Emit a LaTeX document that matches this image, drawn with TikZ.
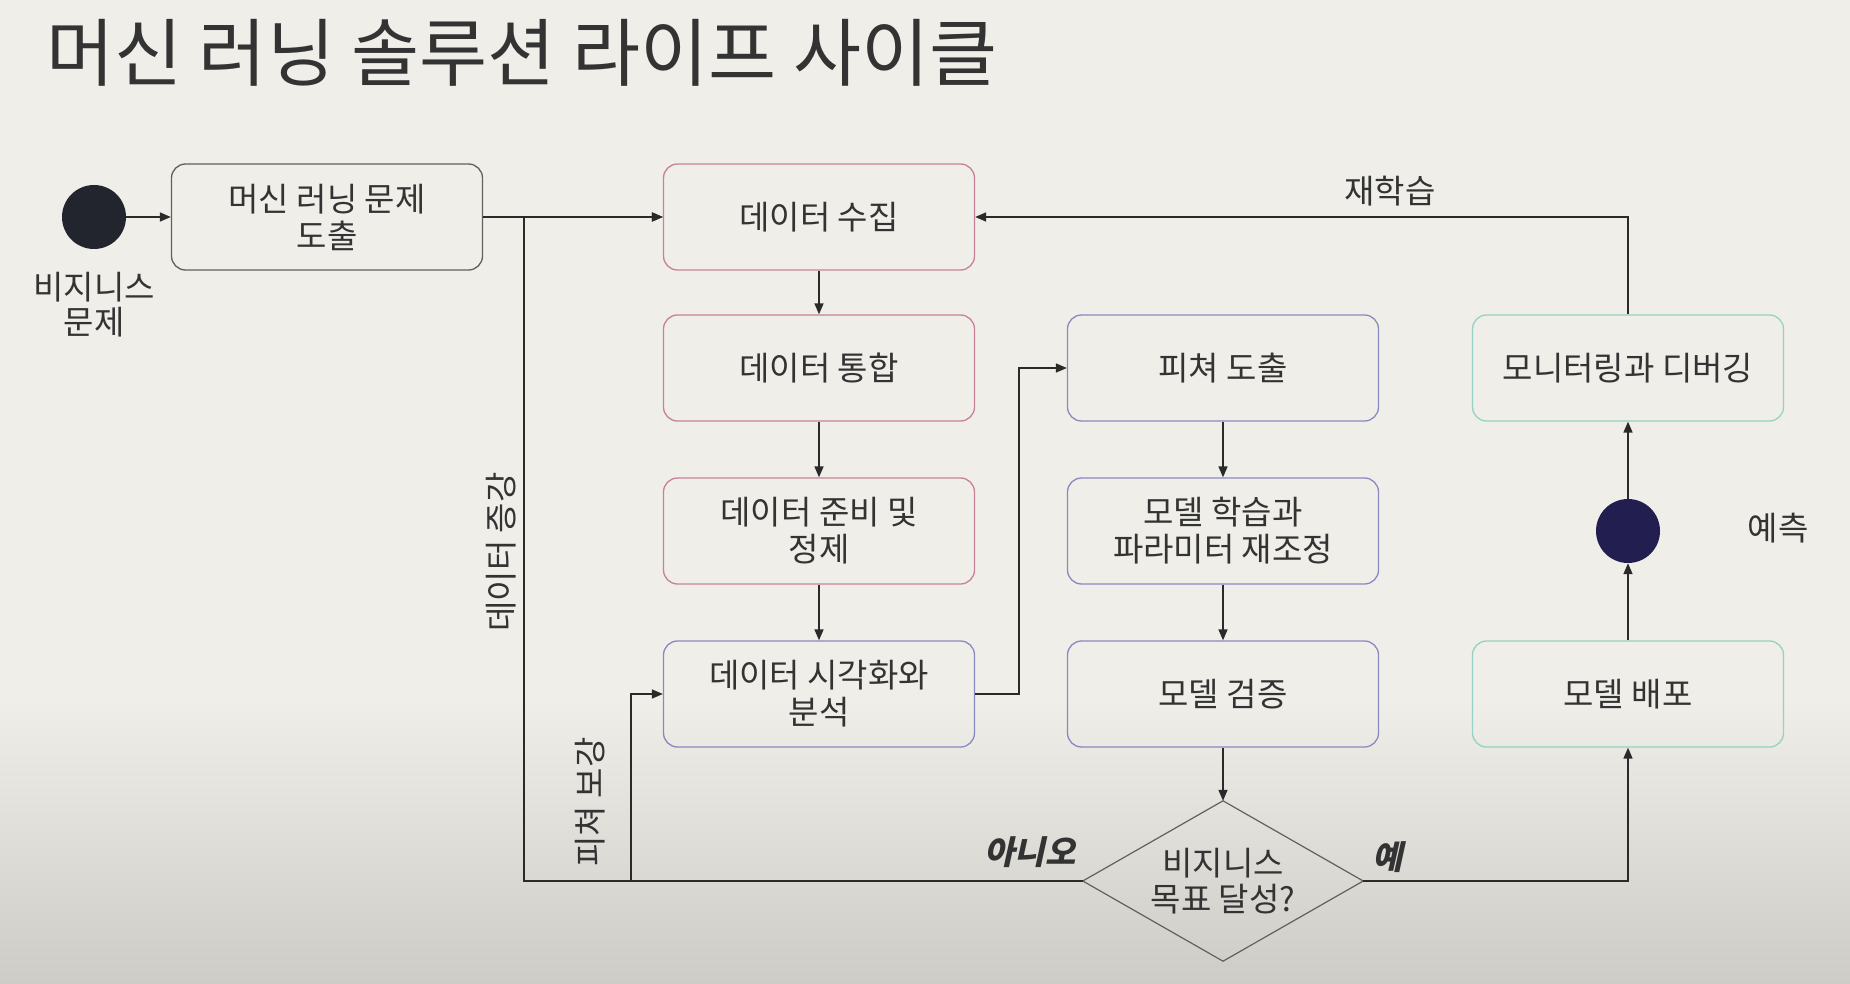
\documentclass[tikz,border=0pt]{standalone}
\usepackage{fontspec}
\setmainfont{Noto Sans CJK KR}
\newfontfamily\kr{Noto Sans CJK KR}
\newfontfamily\krsl[FakeSlant=0.22]{Noto Sans CJK KR}
\usetikzlibrary{shapes.geometric,arrows.meta}
\definecolor{bg}{HTML}{EFEEE9}
\definecolor{bgdark}{HTML}{CDCCC7}
\definecolor{txt}{HTML}{333333}
\definecolor{lin}{HTML}{2A2A2A}
\definecolor{grayb}{HTML}{606060}
\definecolor{pinkb}{HTML}{C8809A}
\definecolor{purpb}{HTML}{8A88C0}
\definecolor{tealb}{HTML}{96D2C2}
\definecolor{dotA}{HTML}{22252E}
\definecolor{dotB}{HTML}{221F50}
\tikzset{
  box/.style={draw, rounded corners=14pt, minimum width=311pt, minimum height=106pt,
    align=center, line width=1.3pt, text=txt, inner sep=4pt,
    font=\kr\fontsize{33}{37}\selectfont},
  lbl/.style={text=txt, align=center, inner sep=0pt, font=\kr\fontsize{33}{36}\selectfont},
  arr/.style={draw=lin, line width=1.6pt, -{Triangle[length=11pt,width=9pt]}},
  dot/.style={circle, minimum size=64pt, inner sep=0pt},
}
\begin{document}
\begin{tikzpicture}[x=1pt,y=-1pt]
\useasboundingbox (0,0) rectangle (1850,984);
\fill[bg] (0,0) rectangle (1850,984);
\shade[top color=bg, bottom color=bgdark] (0,700) rectangle (1850,984);

\node[anchor=west, text=txt, inner sep=0pt, font=\kr\fontsize{74}{78}\selectfont] (title) at (46,53) {머신 러닝 솔루션 라이프 사이클};

\node[dot, fill=dotA] (start) at (94,217) {};
\node[lbl] (startlbl) at (94,305) {비지니스\\[-1pt]문제};
\node[box, draw=grayb] (b1) at (327,217) {머신 러닝 문제\\도출};

\node[box, draw=pinkb] (c1) at (819,217) {데이터 수집};
\node[box, draw=pinkb] (c2) at (819,368) {데이터 통합};
\node[box, draw=pinkb] (c3) at (819,531) {데이터 준비 및\\정제};
\node[box, draw=purpb] (c4) at (819,694) {데이터 시각화와\\분석};

\node[box, draw=purpb] (f1) at (1223,368) {피쳐 도출};
\node[box, draw=purpb] (f2) at (1223,531) {모델 학습과\\파라미터 재조정};
\node[box, draw=purpb] (f3) at (1223,694) {모델 검증};

\node[minimum width=280pt, minimum height=160pt, inner sep=0pt,
  align=center, text=txt, font=\kr\fontsize{33}{36}\selectfont] (dia) at (1223,881) {비지니스\\목표 달성?};
\draw[draw=grayb, line width=1.2pt] (dia.north) -- (dia.east) -- (dia.south) -- (dia.west) -- cycle;

\node[box, draw=tealb] (mon) at (1628,368) {모니터링과 디버깅};
\node[box, draw=tealb] (dep) at (1628,694) {모델 배포};
\node[dot, fill=dotB] (pc) at (1628,531) {};
\node[lbl] (predlbl) at (1778,528) {예측};

\coordinate (aug) at (524,881);
\coordinate (feat) at (631,881);
\coordinate (up) at (1019,694);

\draw[arr] (start) -- (b1);
\draw[arr] (b1.east) -- (c1.west);
\draw[arr] (c1) -- (c2);
\draw[arr] (c2) -- (c3);
\draw[arr] (c3) -- (c4);
\draw[arr] (c4.east) -- (up) |- (f1.west);
\draw[arr] (f1) -- (f2);
\draw[arr] (f2) -- (f3);
\draw[arr] (f3) -- (dia.north);
\draw[arr] (dia.east) -| (dep.south);
\draw[arr] (dep) -- (pc);
\draw[arr] (pc) -- (mon);
\draw[arr] (mon.north) |- (c1.east);
\draw[arr] (dia.west) -- (aug) |- (c1.west);
\draw[arr] (feat) |- (c4.west);

\node[lbl] (retrain) at (1390,191) {재학습};
\node[lbl, rotate=90] (auglbl) at (501,552) {데이터 증강};
\node[lbl, rotate=90] (featlbl) at (590,802) {피쳐 보강};
\node[lbl, font=\krsl\bfseries\fontsize{33}{36}\selectfont] (no) at (1030,852) {아니오};
\node[lbl, font=\krsl\bfseries\fontsize{33}{36}\selectfont] (yes) at (1388,857) {예};
\end{tikzpicture}
\end{document}
